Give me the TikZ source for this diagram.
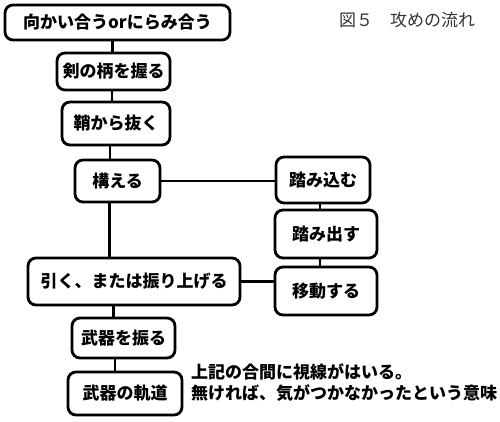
\documentclass[tikz,border=0pt]{standalone}
\usepackage{fontspec}
\setmainfont{Noto Sans CJK JP}
\begin{document}
\begin{tikzpicture}[x=1pt, y=-1pt,
        stage/.style={draw, line width=2.8pt, rounded corners=8pt, inner sep=0pt, font=\bfseries\fontsize{17}{20}\selectfont},
        link/.style={line width=2.2pt}]
        \useasboundingbox (0,0) rectangle (500,422);

        \node[stage, minimum width=225pt, minimum height=35pt] (face) at (117.5,22.5) {向かい合うorにらみ合う};
        \node[stage, minimum width=113pt, minimum height=37pt] (grip) at (113.5,71.5) {剣の柄を握る};
        \node[stage, minimum width=108pt, minimum height=43pt] (unsheathe) at (116,123.5) {鞘から抜く};
        \node[stage, minimum width=85pt, minimum height=42pt] (stance) at (117.5,181) {構える};
        \node[stage, minimum width=212pt, minimum height=47pt] (pull) at (134,281.5) {引く、または振り上げる};
        \node[stage, minimum width=103pt, minimum height=40pt] (swing) at (123.5,338) {武器を振る};
        \node[stage, minimum width=114pt, minimum height=43pt] (orbit) at (125,393.5) {武器の軌道};
        \node[stage, minimum width=94pt, minimum height=46pt] (stepin) at (323,180) {踏み込む};
        \node[stage, minimum width=102pt, minimum height=48pt] (stepout) at (326,234) {踏み出す};
        \node[stage, minimum width=102pt, minimum height=48pt] (move) at (326,291) {移動する};

        \node[anchor=west, inner sep=0pt, text=black!80, font=\fontsize{17}{20}\selectfont] (title) at (339,20) {図５　攻めの流れ};
        \node[anchor=west, align=left, inner sep=0pt, font=\bfseries\fontsize{17}{21}\selectfont] (remark) at (191,382.5) {上記の合間に視線がはいる。\\無ければ、気がつかなかったという意味};

        \begin{scope}[link]
            \draw ([xshift=-1pt]grip.north) -- ([xshift=-1pt]grip.north |- face.south);
            \draw ([xshift=-4pt]unsheathe.north) -- ([xshift=-4pt]unsheathe.north |- grip.south);
            \draw ([xshift=-6pt]unsheathe.south) -- ([xshift=-6pt]unsheathe.south |- stance.north);
            \draw ([xshift=-8pt]stance.south) -- ([xshift=-8pt]stance.south |- pull.north);
            \draw ([xshift=-10pt]swing.north) -- ([xshift=-10pt]swing.north |- pull.south);
            \draw ([xshift=-10pt]orbit.north) -- ([xshift=-10pt]orbit.north |- swing.south);
            \draw (stance.east) -- (stance.east -| stepin.west);
            \draw ([xshift=-3pt]stepin.south) -- ([xshift=-3pt]stepin.south |- stepout.north);
            \draw ([xshift=-6pt]move.north) -- ([xshift=-6pt]move.north |- stepout.south);
            \draw (pull.east) -- (pull.east -| move.west);
        \end{scope}
\end{tikzpicture}
\end{document}
